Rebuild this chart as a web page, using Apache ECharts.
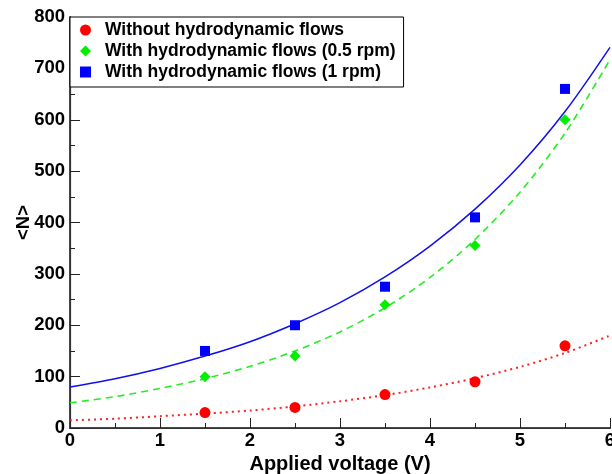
<!DOCTYPE html>
<html>
<head>
<meta charset="utf-8">
<script src="https://cdn.jsdelivr.net/npm/echarts@6/dist/echarts.min.js"></script>
<style>html,body{margin:0;padding:0;background:#fff}#c{width:612px;height:474px}</style>
</head>
<body>
<div id="c"></div>
<script>
const voltages = [1.5, 2.5, 3.5, 4.5, 5.5];
const withoutFlows = [30, 40, 65, 90, 160];
const flows05 = [100, 140, 240, 355, 600];
const flows1 = [150, 200, 275, 410, 660];

const fitX = [0, 0.5, 1, 1.5, 2, 2.5, 3, 3.5, 4, 4.5, 5, 5.5, 6];
const fitWithout = [15, 18, 23, 28, 34, 42, 52, 64, 79, 97, 119, 146, 180];
const fit05 = [49, 61, 77, 96, 120, 150, 187, 234, 293, 367, 459, 574, 717];
const fit1 = [80, 96, 116, 140, 168, 203, 244, 294, 354, 426, 512, 616, 741];

const xTicks = [0, 1, 2, 3, 4, 5, 6];
const yTicks = [0, 100, 200, 300, 400, 500, 600, 700, 800];

const names = ['Without hydrodynamic flows', 'With hydrodynamic flows (0.5 rpm)', 'With hydrodynamic flows (1 rpm)'];

const pair = (xs, ys) => xs.map((x, i) => [x, ys[i]]);
const FONT = 'Liberation Sans, Arial, sans-serif';
const AXIS_GREEN = '#2a5e2a';

const frameAxis = {
  axisLine: {show: true, lineStyle: {color: '#333', width: 1.2}},
  axisTick: {show: false}, axisLabel: {show: false}, splitLine: {show: false}
};

const chart = echarts.init(document.getElementById('c'), null, {renderer: 'canvas'});
chart.setOption({
  animation: false,
  backgroundColor: '#fff',
  grid: {left: 70, right: 2, top: 17, bottom: 46, outerBoundsMode: 'none', containLabel: false},
  legend: {
    data: names,
    orient: 'vertical',
    left: 70, top: 17,
    itemWidth: 11, itemHeight: 11,
    itemGap: 1,
    padding: [3, 8, 5, 10],
    borderColor: '#000', borderWidth: 1,
    backgroundColor: '#fff',
    textStyle: {fontFamily: FONT, fontWeight: 'bold', fontSize: 17.5, color: '#000', lineHeight: 20, padding: [0, 0, 0, 9]}
  },
  xAxis: [{
    type: 'value', min: 0, max: 6, interval: 1,
    name: 'Applied voltage (V)', nameLocation: 'middle', nameGap: 26, nameMoveOverlap: false,
    nameTextStyle: {fontFamily: FONT, fontWeight: 'bold', fontSize: 20, color: '#000'},
    axisLine: {lineStyle: {color: AXIS_GREEN, width: 2}},
    axisTick: {inside: true, length: 10, lineStyle: {color: '#222'}},
    minorTick: {show: true, splitNumber: 2, length: 5, lineStyle: {color: '#222'}},
    splitLine: {show: false},
    axisLabel: {fontFamily: FONT, fontWeight: 'bold', fontSize: 18.5, color: '#000', margin: 3,
      formatter: v => xTicks.includes(v) ? String(v) : ''}
  }, Object.assign({type: 'value', min: 0, max: 6, position: 'top'}, frameAxis)],
  yAxis: [{
    type: 'value', min: 0, max: 800, interval: 100,
    name: '<N>', nameLocation: 'middle', nameGap: 37, nameRotate: 90, nameMoveOverlap: false,
    nameTextStyle: {fontFamily: FONT, fontWeight: 'bold', fontSize: 18.5, color: '#000'},
    axisLine: {lineStyle: {color: AXIS_GREEN, width: 2}},
    axisTick: {inside: true, length: 10, lineStyle: {color: '#222'}},
    minorTick: {show: true, splitNumber: 2, length: 5, lineStyle: {color: '#222'}},
    splitLine: {show: false},
    axisLabel: {fontFamily: FONT, fontWeight: 'bold', fontSize: 18.5, color: '#000', margin: 5,
      formatter: v => yTicks.includes(v) ? String(v) : ''}
  }, Object.assign({type: 'value', min: 0, max: 800, position: 'right'}, frameAxis)],
  series: [
    {type: 'line', name: 'fitRed', data: pair(fitX, fitWithout), smooth: 0.3, symbol: 'none',
      lineStyle: {color: '#ff2020', width: 2, type: [2, 4]}, z: 2},
    {type: 'line', name: 'fitGreen', data: pair(fitX, fit05), smooth: 0.3, symbol: 'none',
      lineStyle: {color: '#22ee22', width: 1.6, type: [7, 5]}, z: 2},
    {type: 'line', name: 'fitBlue', data: pair(fitX, fit1), smooth: 0.3, symbol: 'none',
      lineStyle: {color: '#1010ee', width: 1.5}, z: 2},
    {type: 'scatter', name: names[0], data: pair(voltages, withoutFlows), symbol: 'circle', symbolSize: 11,
      itemStyle: {color: '#ff0000', opacity: 1}, z: 3},
    {type: 'scatter', name: names[1], data: pair(voltages, flows05), symbol: 'diamond', symbolSize: 11,
      itemStyle: {color: '#00ee00', opacity: 1}, z: 3},
    {type: 'scatter', name: names[2], data: pair(voltages, flows1), symbol: 'rect', symbolSize: 10,
      itemStyle: {color: '#0000ff', opacity: 1}, z: 3}
  ]
});
</script>
</body>
</html>
